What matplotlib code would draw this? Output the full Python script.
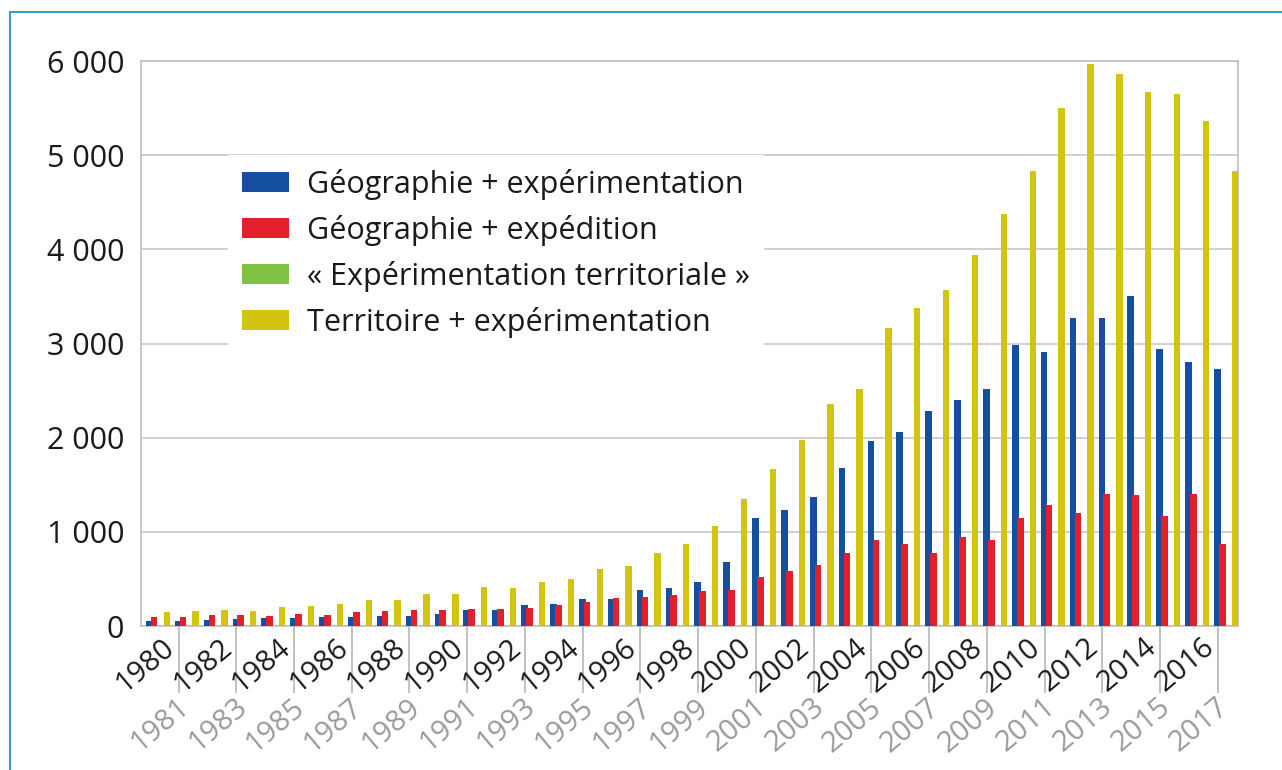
import matplotlib.pyplot as plt
from matplotlib.lines import Line2D

years = list(range(1980, 2018))

geo_exp = [51, 51, 62, 73, 83, 83, 94, 94, 104, 104,
           126, 172, 172, 221, 232, 285, 285, 381, 402, 465,
           683, 1150, 1235, 1373, 1681, 1968, 2064, 2287, 2404, 2520,
           2988, 2905, 3276, 3276, 3500, 2945, 2799, 2732]
geo_expe = [94, 94, 115, 115, 104, 126, 115, 147, 158, 168,
            172, 182, 182, 189, 221, 253, 296, 306, 327, 372,
            385, 524, 587, 651, 778, 915, 870, 780, 949, 910,
            1142, 1283, 1197, 1398, 1390, 1165, 1398, 866]
exp_terr = [0] * 38
terr_exp = [147, 158, 168, 158, 200, 211, 232, 274, 274, 335,
            338, 412, 402, 465, 497, 604, 635, 777, 869, 1062,
            1352, 1671, 1979, 2361, 2520, 3164, 3377, 3568, 3940, 4370,
            4831, 5504, 5972, 5866, 5669, 5650, 5366, 4831]

labels = ["Géographie + expérimentation",
          "Géographie + expédition",
          "« Expérimentation territoriale »",
          "Territoire + expérimentation"]
colors = ["#174fa0", "#e41f2b", "#80c342", "#d4c412"]

plt.rcParams['font.family'] = ['Open Sans', 'DejaVu Sans']

fig = plt.figure(figsize=(12.82, 7.70), dpi=100)
ax = fig.add_axes([141 / 1282, 1 - 626 / 770, 1097 / 1282, 565 / 770])

x = list(range(len(years)))
series = [geo_exp, geo_expe, exp_terr, terr_exp]
offsets = [-0.33, -0.16, 0.05, 0.28]
widths = [0.23, 0.23, 0.22, 0.22]
for vals, off, w, col, lab in zip(series, offsets, widths, colors, labels):
    ax.bar([i + off for i in x], vals, width=w, align='edge',
           color=col, label=lab, zorder=3)

ax.set_xlim(-0.5, len(years) - 0.5)
ax.set_ylim(0, 6000)
ax.set_yticks(range(0, 6001, 1000))
ax.set_yticklabels(["0"] + ["%d 000" % k for k in range(1, 7)])
ax.tick_params(axis='y', length=0, pad=12, labelsize=22, labelcolor='#1a1a1a')
ax.yaxis.grid(True, color='#c8c8c8', lw=1.2, zorder=0)
for s in ax.spines.values():
    s.set_color('#c0c0c0')
    s.set_linewidth(1.2)

# tick lines under the odd years, labels drawn by hand
odd = [i for i in x if years[i] % 2 == 1]
ax.set_xticks([i - 0.2 for i in odd])
ax.set_xticklabels([])
ax.tick_params(axis='x', direction='out', length=48, width=1.1, color='#b0b0b0')

trans = ax.get_xaxis_transform()
for i, yr in zip(x, years):
    if yr % 2 == 0:
        ax.text(i + 0.22, -0.012, str(yr), transform=trans, rotation=40,
                rotation_mode='anchor', ha='right', va='top',
                fontsize=21, color='#1a1a1a')
    else:
        ax.text(i - 0.28, -0.118, str(yr), transform=trans, rotation=40,
                rotation_mode='anchor', ha='right', va='top',
                fontsize=21, color='#9a9a9a')

leg = ax.legend(loc='upper left', bbox_to_anchor=(228 / 1282, 1 - 155 / 770),
                bbox_transform=fig.transFigure, borderaxespad=0,
                fontsize=22, frameon=True, fancybox=False, framealpha=1,
                edgecolor='none', facecolor='white',
                handlelength=1.54, handleheight=0.62, handletextpad=0.59,
                labelspacing=0.49, borderpad=0.45)
for t in leg.get_texts():
    t.set_color('#1a1a1a')

# outer frame
fig.add_artist(Line2D([9.5 / 1282, 9.5 / 1282], [0, 1 - 11.5 / 770],
                      color='#3c9bc8', lw=1.5))
fig.add_artist(Line2D([9.5 / 1282, 1], [1 - 11.5 / 770, 1 - 11.5 / 770],
                      color='#3c9bc8', lw=1.5))

plt.savefig('out.png', dpi=100)
